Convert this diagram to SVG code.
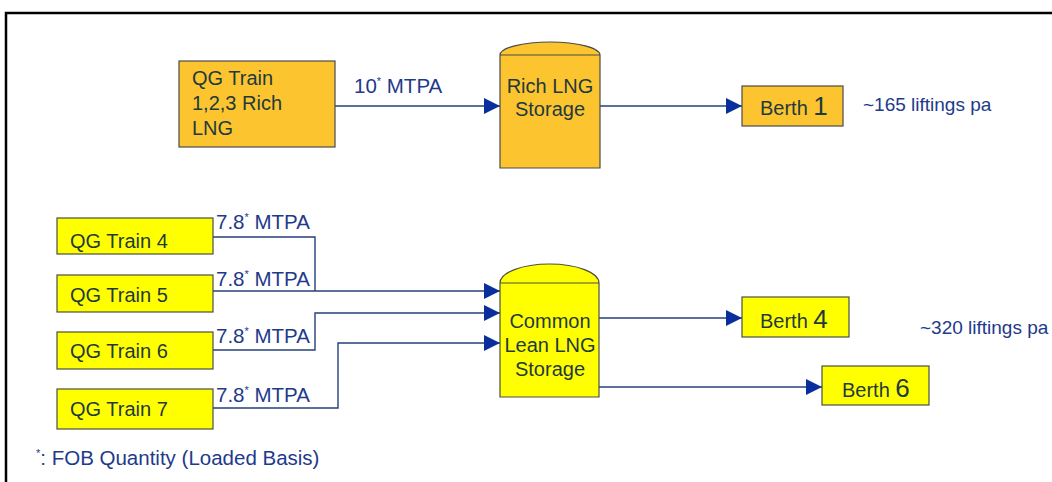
<svg xmlns="http://www.w3.org/2000/svg" width="1052" height="482" viewBox="0 0 1052 482">
<defs>
<marker id="ah" markerUnits="userSpaceOnUse" markerWidth="16" markerHeight="16" viewBox="0 0 16 16" refX="16" refY="8" orient="auto">
<path d="M0,0 L16,8 L0,16 Z" fill="#0a2f9c"/>
</marker>
</defs>
<style>
.or{fill:#fcc530;stroke:#4a4a4a;stroke-width:1.2}
.ye{fill:#ffff00;stroke:#4a5040;stroke-width:1.2}
.bt{font-family:"Liberation Sans",Arial,sans-serif;font-size:20px;fill:#1f3a3c}
.lb{font-family:"Liberation Sans",Arial,sans-serif;font-size:20.5px;fill:#1e3a8a}
.lf{font-size:19px}
.sup{font-size:11px}
.big{font-size:26px}
.cn{fill:none;stroke:#24407a;stroke-width:1.4}
.ar{marker-end:url(#ah)}
</style>
<rect width="1052" height="482" fill="#ffffff"/>
<path d="M6,482 V13 H1052" fill="none" stroke="#000" stroke-width="2.5"/>

<g id="connectors">
<path class="cn ar" d="M335,106 H500"/>
<path class="cn ar" d="M600,106 H742"/>
<path class="cn" d="M213,237 H315 V291"/>
<path class="cn ar" d="M213,291 H500"/>
<path class="cn ar" d="M213,350 H315 V313 H500"/>
<path class="cn ar" d="M213,408 H338 V343 H500"/>
<path class="cn ar" d="M599,318 H742"/>
<path class="cn ar" d="M599,387 H822"/>
</g>

<g id="labels">
<text class="lb" x="354" y="93">10<tspan class="sup" dy="-8">*</tspan><tspan dy="8"> MTPA</tspan></text>
<text class="lb" x="216" y="229">7.8<tspan class="sup" dy="-8">*</tspan><tspan dy="8"> MTPA</tspan></text>
<text class="lb" x="216" y="286">7.8<tspan class="sup" dy="-8">*</tspan><tspan dy="8"> MTPA</tspan></text>
<text class="lb" x="216" y="343">7.8<tspan class="sup" dy="-8">*</tspan><tspan dy="8"> MTPA</tspan></text>
<text class="lb" x="216" y="402">7.8<tspan class="sup" dy="-8">*</tspan><tspan dy="8"> MTPA</tspan></text>
<text class="lb lf" x="863" y="111">~165 liftings  pa</text>
<text class="lb lf" x="920" y="334">~320 liftings  pa</text>
<text class="lb" x="36" y="465"><tspan class="sup" dy="-8">*</tspan><tspan dy="8">: FOB Quantity (Loaded Basis)</tspan></text>
</g>

<g id="qg123">
<rect class="or" x="179" y="61" width="156" height="86"/>
<text class="bt" x="192" y="85">QG Train</text>
<text class="bt" x="192" y="110">1,2,3 Rich</text>
<text class="bt" x="192" y="135">LNG</text>
</g>

<g id="rich-storage">
<path class="or" d="M500,168 V55 A50,13 0 0 1 600,55 V168 Z"/>
<path d="M500,55 H600" stroke="#4a4a4a" stroke-width="1.2"/>
<text class="bt" x="550" y="93" text-anchor="middle">Rich LNG</text>
<text class="bt" x="550" y="116" text-anchor="middle">Storage</text>
</g>

<g id="berth1">
<rect class="or" x="742" y="86" width="101" height="40"/>
<text class="bt" x="760" y="115">Berth <tspan class="big">1</tspan></text>
</g>

<g id="qg4">
<rect class="ye" x="57" y="218" width="156" height="36"/>
<text class="bt" x="70" y="248">QG Train 4</text>
</g>
<g id="qg5">
<rect class="ye" x="57" y="275" width="156" height="37"/>
<text class="bt" x="70" y="302">QG Train 5</text>
</g>
<g id="qg6">
<rect class="ye" x="57" y="332" width="156" height="37"/>
<text class="bt" x="70" y="358">QG Train 6</text>
</g>
<g id="qg7">
<rect class="ye" x="57" y="389" width="156" height="40"/>
<text class="bt" x="70" y="416">QG Train 7</text>
</g>

<g id="lean-storage">
<path class="ye" d="M500,397 V283 A49.5,19 0 0 1 599,283 V397 Z"/>
<path d="M500,283 H599" stroke="#4a5040" stroke-width="1.2"/>
<text class="bt" x="550" y="328" text-anchor="middle">Common</text>
<text class="bt" x="550" y="352" text-anchor="middle">Lean LNG</text>
<text class="bt" x="550" y="376" text-anchor="middle">Storage</text>
</g>

<g id="berth4">
<rect class="ye" x="742" y="297" width="107" height="40"/>
<text class="bt" x="760" y="328">Berth <tspan class="big">4</tspan></text>
</g>

<g id="berth6">
<rect class="ye" x="822" y="366" width="107" height="39"/>
<text class="bt" x="842" y="397">Berth <tspan class="big">6</tspan></text>
</g>
</svg>
